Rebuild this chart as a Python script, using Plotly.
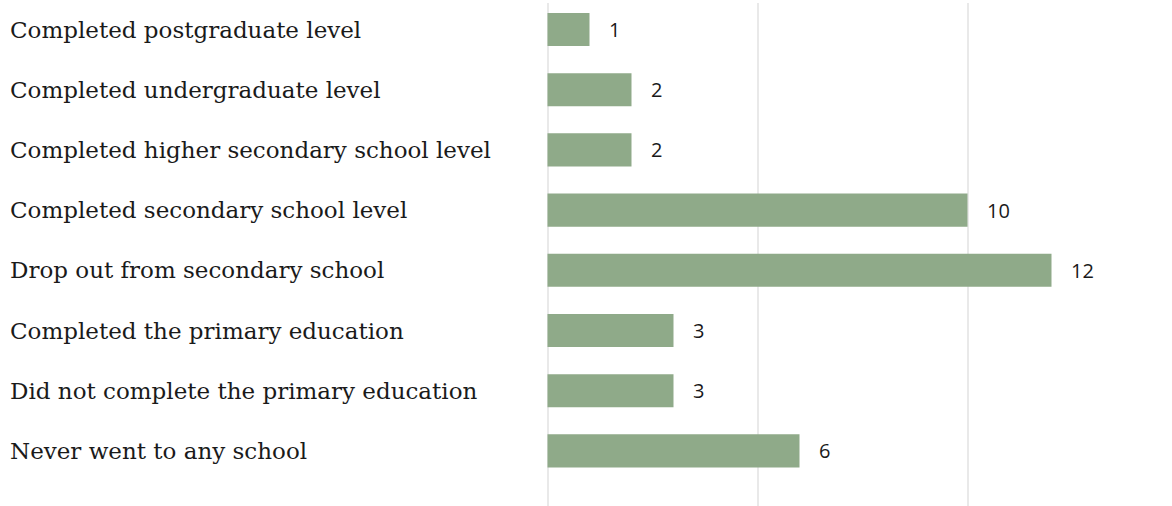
import plotly.graph_objects as go

# Education levels, listed bottom to top as they appear on the axis
categories = [
    "Never went to any school",
    "Did not complete the primary education",
    "Completed the primary education",
    "Drop out from secondary school",
    "Completed secondary school level",
    "Completed higher secondary school level",
    "Completed undergraduate level",
    "Completed postgraduate level",
]
counts = [6, 3, 3, 12, 10, 2, 2, 1]

BAR_COLOR = "#8faa89"
GRID_COLOR = "#e9e9e9"

W, H = 1172, 506
LEFT, TOP = 545, 3
plot_w = W - LEFT
plot_h = H - TOP

px_per_unit = 42.0
x_start = -2.5 / px_per_unit  # leaves room so the zero gridline is drawn

fig = go.Figure()
fig.add_trace(go.Bar(
    x=counts,
    y=categories,
    orientation="h",
    marker=dict(color=BAR_COLOR, line=dict(width=0)),
    hoverinfo="skip",
))

# value labels to the right of each bar
for cat, val in zip(categories, counts):
    fig.add_annotation(
        x=val, y=cat, xref="x", yref="y",
        text=str(val), showarrow=False,
        xanchor="left", yanchor="middle", xshift=17,
        font=dict(family="Open Sans", size=20, color="#1a1a1a"),
    )

# category names, left-aligned at the chart edge
label_x = (8 - LEFT) / plot_w
for cat in categories:
    fig.add_annotation(
        x=label_x, y=cat, xref="paper", yref="y",
        text=cat, showarrow=False,
        xanchor="left", yanchor="middle",
        font=dict(family="DejaVu Serif", size=23, color="#1a1a1a"),
    )

span_y = plot_h / 60.2
top_y = 7 + 26.5 / 60.2

fig.update_layout(
    width=W, height=H,
    margin=dict(l=LEFT, r=0, t=TOP, b=0),
    paper_bgcolor="white",
    plot_bgcolor="white",
    bargap=0.45,
    showlegend=False,
    xaxis=dict(
        range=[x_start, x_start + plot_w / px_per_unit],
        tickvals=[0, 5, 10],
        showticklabels=False,
        showgrid=True, gridcolor=GRID_COLOR, gridwidth=2,
        zeroline=False, showline=False,
        fixedrange=True,
    ),
    yaxis=dict(
        type="category",
        categoryorder="array", categoryarray=categories,
        range=[top_y - span_y, top_y],
        showticklabels=False,
        showgrid=False, zeroline=False, showline=False,
        fixedrange=True,
    ),
)

fig.write_html("out.html", config={"displayModeBar": False})
